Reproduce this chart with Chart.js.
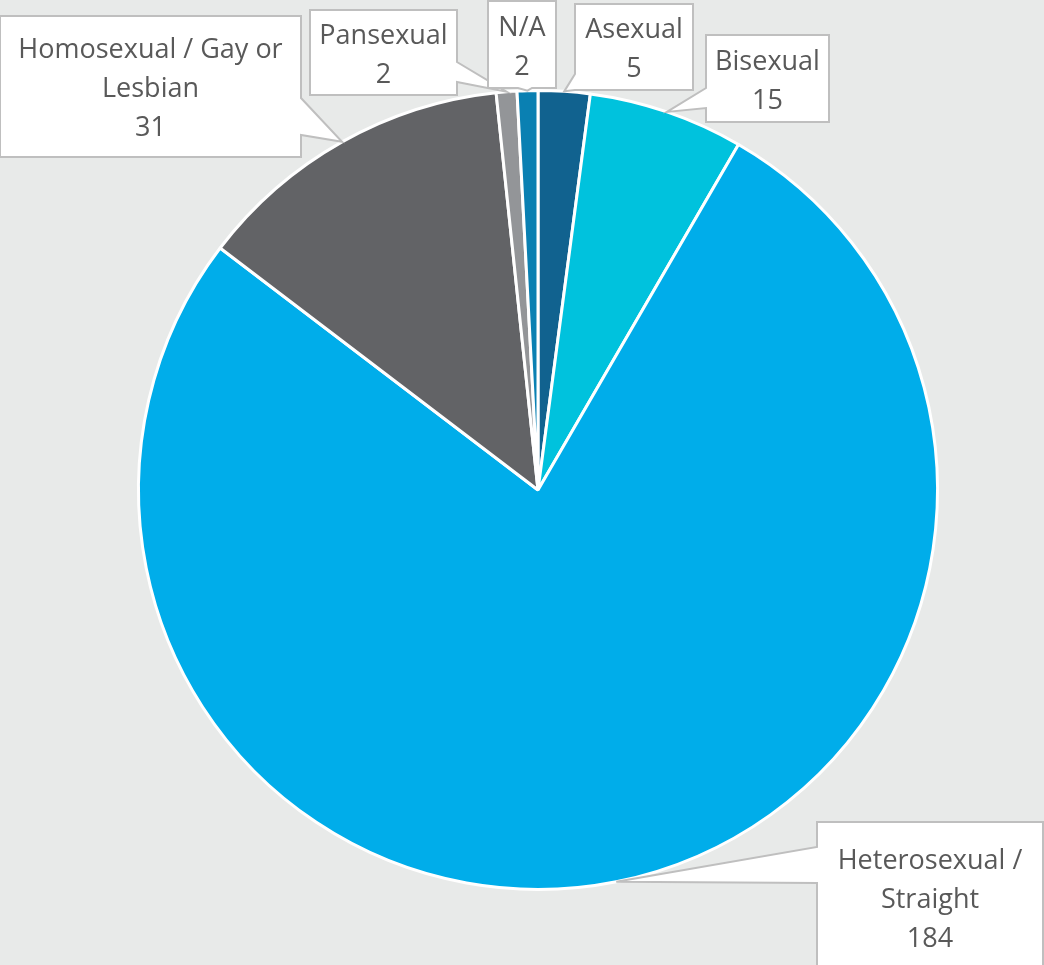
<!DOCTYPE html>
<html>
<head>
<meta charset="utf-8">
<script src="https://cdn.jsdelivr.net/npm/chart.js@4.4.1/dist/chart.umd.min.js"></script>
<style>
  html, body { margin: 0; padding: 0; background: #e8eae9; }
  #pie { display: block; }
</style>
</head>
<body>
<canvas id="pie" width="1044" height="965"></canvas>
<script>
const categories = ["Asexual", "Bisexual", "Heterosexual / Straight", "Homosexual / Gay or Lesbian", "Pansexual", "N/A"];
const counts = [5, 15, 184, 31, 2, 2];
const sliceColors = ["#11628f", "#00c2dd", "#00adea", "#626366", "#939598", "#0a80b2"];

// callout boxes, same order as categories; tail = side of the box + two offsets along it
const callouts = [
  {x: 575, y: 4,   w: 118, h: 86,  side: "left",   a: 70, b: 86},
  {x: 706, y: 35,  w: 123, h: 87,  side: "left",   a: 53, b: 73},
  {x: 817, y: 822, w: 226, h: 150, side: "left",   a: 25, b: 61},
  {x: 0,   y: 16,  w: 301, h: 141, side: "right",  a: 82, b: 119},
  {x: 310, y: 10,  w: 147, h: 85,  side: "right",  a: 52, b: 72},
  {x: 488, y: 1,   w: 68,  h: 87,  side: "bottom", a: 30, b: 44},
];

function wrapText(ctx, text, maxW) {
  const words = text.split(" ");
  const lines = [];
  let cur = "";
  words.forEach(w => {
    const test = cur ? cur + " " + w : w;
    if (ctx.measureText(test).width > maxW && cur) {
      lines.push(cur);
      cur = w;
    } else {
      cur = test;
    }
  });
  if (cur) lines.push(cur);
  return lines;
}

function calloutPath(ctx, c, tip) {
  const {x, y, w, h, side, a, b} = c;
  ctx.beginPath();
  ctx.moveTo(x, y);
  if (side === "top") { ctx.lineTo(x + a, y); ctx.lineTo(tip.x, tip.y); ctx.lineTo(x + b, y); }
  ctx.lineTo(x + w, y);
  if (side === "right") { ctx.lineTo(x + w, y + a); ctx.lineTo(tip.x, tip.y); ctx.lineTo(x + w, y + b); }
  ctx.lineTo(x + w, y + h);
  if (side === "bottom") { ctx.lineTo(x + b, y + h); ctx.lineTo(tip.x, tip.y); ctx.lineTo(x + a, y + h); }
  ctx.lineTo(x, y + h);
  if (side === "left") { ctx.lineTo(x, y + b); ctx.lineTo(tip.x, tip.y); ctx.lineTo(x, y + a); }
  ctx.closePath();
}

const calloutPlugin = {
  id: "callouts",
  afterDatasetsDraw(chart) {
    const ctx = chart.ctx;
    const meta = chart.getDatasetMeta(0);
    ctx.save();
    ctx.font = "27px 'Open Sans'";
    ctx.textAlign = "center";
    ctx.textBaseline = "middle";
    meta.data.forEach((arc, i) => {
      const c = callouts[i];
      const mid = (arc.startAngle + arc.endAngle) / 2;
      const tip = {x: arc.x + Math.cos(mid) * arc.outerRadius, y: arc.y + Math.sin(mid) * arc.outerRadius};
      calloutPath(ctx, c, tip);
      ctx.fillStyle = "#ffffff";
      ctx.fill();
      ctx.strokeStyle = "#bfbfbf";
      ctx.lineWidth = 2;
      ctx.stroke();

      const lines = wrapText(ctx, categories[i], c.w - 14);
      lines.push(String(counts[i]));
      const lh = 39;
      const cx = c.x + c.w / 2;
      const startY = c.y + c.h / 2 - (lines.length - 1) * lh / 2 + 3;
      ctx.fillStyle = "#595959";
      lines.forEach((ln, k) => ctx.fillText(ln, cx, startY + k * lh));
    });
    ctx.restore();
  }
};

const ctx = document.getElementById("pie");
const myChart = new Chart(ctx, {
  type: "pie",
  data: {
    labels: categories,
    datasets: [{
      data: counts,
      backgroundColor: sliceColors,
      borderColor: "#ffffff",
      borderWidth: 3,
      hoverOffset: 0,
    }],
  },
  options: {
    responsive: false,
    animation: false,
    devicePixelRatio: 1,
    layout: { padding: { left: 137, right: 105, top: 89, bottom: 74 } },
    plugins: {
      legend: { display: false },
      tooltip: { enabled: false },
    },
  },
  plugins: [calloutPlugin],
});
</script>
</body>
</html>
